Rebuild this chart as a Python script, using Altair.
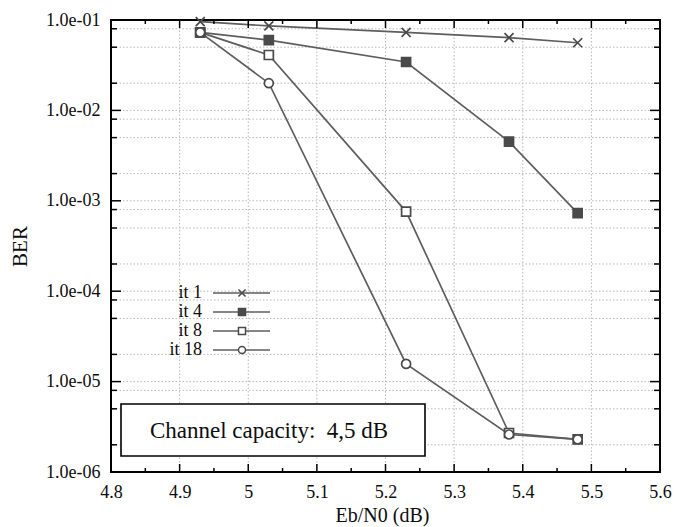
import altair as alt
import pandas as pd

# ---- data ----
ebn0 = [4.93, 5.03, 5.23, 5.38, 5.48]
series_names = ["it 1", "it 4", "it 8", "it 18"]
ber_it1 = [0.096, 0.086, 0.073, 0.0637, 0.056]
ber_it4 = [0.073, 0.060, 0.0343, 0.00451, 0.00073]
ber_it8 = [0.073, 0.041, 0.00076, 2.7e-6, 2.3e-6]
ber_it18 = [0.073, 0.020, 1.57e-5, 2.6e-6, 2.3e-6]

x_labels = [4.8, 4.9, 5.0, 5.1, 5.2, 5.3, 5.4, 5.5, 5.6]
x_major_ticks = [4.9, 5.0, 5.1, 5.2, 5.3, 5.4, 5.5]
x_minor_ticks = [4.85, 4.95, 5.05, 5.15, 5.25, 5.35, 5.45, 5.55]
y_labels = [1e-1, 1e-2, 1e-3, 1e-4, 1e-5, 1e-6]
y_major_ticks = [1e-2, 1e-3, 1e-4, 1e-5]
y_minor_ticks = [m * d for d in [1e-2, 1e-3, 1e-4, 1e-5, 1e-6] for m in (8, 5, 2)]
annotation = "Channel capacity:\u00a0\u00a04,5 dB"

# ---- tables ----
rows = []
for name, vals in zip(series_names, [ber_it1, ber_it4, ber_it8, ber_it18]):
    for x, v in zip(ebn0, vals):
        rows.append({"x": x, "ber": v, "series": name})
df = pd.DataFrame(rows)
df_leg = pd.DataFrame({"series": series_names, "idx": list(range(len(series_names)))})

W, H = 549, 452
FONT = "'Liberation Serif', 'Times New Roman', 'DejaVu Serif', serif"
TXT = "#0d0d0d"
LINE = "#5e5e5e"
MK = "#4a4a4a"

xscale = alt.Scale(domain=[4.8, 5.6], nice=False, zero=False)
yscale = alt.Scale(type="log", domain=[1e-6, 1e-1], nice=False)

shape_scale = alt.Scale(domain=series_names,
                        range=["M-1,-1L1,1M1,-1L-1,1", "square", "square", "circle"])
fill_scale = alt.Scale(domain=series_names, range=["white", MK, "white", "white"])

xaxis = alt.Axis(values=x_labels, labelExpr="datum.value == 5 ? '5' : format(datum.value, '.1f')",
                 ticks=False, domain=False, grid=False, labelPadding=11, labelFlush=False,
                 labelOverlap=False,
                 labelFont=FONT, labelFontSize=18, labelColor=TXT,
                 title="Eb/N0 (dB)", titleFont=FONT, titleFontSize=20, titleFontWeight="normal",
                 titleColor=TXT, titleX=271, titleY=43, titleBaseline="middle", titleAlign="center")
yaxis = alt.Axis(values=y_labels, labelExpr="replace(format(datum.value, '.1e'), 'e-', 'e-0')",
                 ticks=False, domain=False, grid=False, labelPadding=11, labelFlush=False,
                 labelOverlap=False,
                 labelFont=FONT, labelFontSize=18, labelColor=TXT,
                 title="BER", titleFont=FONT, titleFontSize=21, titleFontWeight="normal",
                 titleColor=TXT, titleX=-91, titleY=226, titleAngle=270,
                 titleBaseline="middle", titleAlign="center")

base = alt.Chart(df)

# grid
xgrid = alt.Chart(pd.DataFrame({"v": x_major_ticks})).mark_rule(
    color="#b8b8b8", strokeWidth=1, strokeDash=[1.5, 2]).encode(
    x=alt.X("v:Q", scale=xscale, axis=xaxis))
ygrid = alt.Chart(pd.DataFrame({"v": y_major_ticks + y_minor_ticks})).mark_rule(
    color="#b8b8b8", strokeWidth=1, strokeDash=[1.5, 2]).encode(
    y=alt.Y("v:Q", scale=yscale, axis=yaxis))

lines = base.mark_line(color=LINE, strokeWidth=1.7).encode(
    x=alt.X("x:Q", scale=xscale, axis=xaxis),
    y=alt.Y("ber:Q", scale=yscale, axis=yaxis),
    detail="series:N")

points = base.mark_point(filled=True, stroke=MK, strokeWidth=1.7, size=81, opacity=1).encode(
    x=alt.X("x:Q", scale=xscale, axis=xaxis),
    y=alt.Y("ber:Q", scale=yscale, axis=yaxis),
    shape=alt.Shape("series:N", scale=shape_scale, legend=None),
    fill=alt.Fill("series:N", scale=fill_scale, legend=None))

# ticks (inward, all four sides)
def xticks(vals, length):
    d = alt.Chart(pd.DataFrame({"v": vals}))
    bot = d.mark_rule(color="black", strokeWidth=1.5).encode(
        x=alt.X("v:Q", scale=xscale, axis=xaxis), y=alt.value(H), y2=alt.value(H - length))
    top = d.mark_rule(color="black", strokeWidth=1.5).encode(
        x=alt.X("v:Q", scale=xscale, axis=xaxis), y=alt.value(0), y2=alt.value(length))
    return [bot, top]

def yticks(vals, length):
    d = alt.Chart(pd.DataFrame({"v": vals}))
    left = d.mark_rule(color="black", strokeWidth=1.5).encode(
        y=alt.Y("v:Q", scale=yscale, axis=yaxis), x=alt.value(0), x2=alt.value(length))
    right = d.mark_rule(color="black", strokeWidth=1.5).encode(
        y=alt.Y("v:Q", scale=yscale, axis=yaxis), x=alt.value(W), x2=alt.value(W - length))
    return [left, right]

tick_layers = xticks(x_major_ticks, 8) + xticks(x_minor_ticks, 4) + \
    yticks(y_major_ticks, 10) + yticks(y_minor_ticks, 6)

# annotation box
box = alt.Chart(pd.DataFrame({"t": [annotation]})).mark_rect(
    fill="white", stroke="black", strokeWidth=1.6).encode(
    x=alt.value(10), x2=alt.value(314), y=alt.value(384), y2=alt.value(436))
box_text = alt.Chart(pd.DataFrame({"t": [annotation]})).mark_text(
    font=FONT, fontSize=23, color=TXT, align="center", baseline="middle").encode(
    x=alt.value(158), y=alt.value(411), text="t:N")

# custom legend (label left of sample, gnuplot style)
leg = alt.Chart(df_leg).transform_calculate(py="273 + 19 * datum.idx")
leg_text = leg.mark_text(font=FONT, fontSize=18, color=TXT, align="right", baseline="middle").encode(
    x=alt.value(91), y=alt.Y("py:Q", scale=None), text="series:N")
leg_line = leg.mark_rule(color=LINE, strokeWidth=1.6).encode(
    x=alt.value(102), x2=alt.value(159), y=alt.Y("py:Q", scale=None))
leg_pts = leg.mark_point(filled=True, stroke=MK, strokeWidth=1.5, size=50, opacity=1).encode(
    x=alt.value(131), y=alt.Y("py:Q", scale=None),
    shape=alt.Shape("series:N", scale=shape_scale, legend=None),
    fill=alt.Fill("series:N", scale=fill_scale, legend=None))

chart = alt.layer(xgrid, ygrid, lines, points, box, box_text, leg_line, leg_pts, leg_text,
                  *tick_layers).properties(
    width=W, height=H,
    padding={"left": 111, "top": 20, "right": 18, "bottom": 55},
    autosize=alt.AutoSizeParams(type="none"),
    background="white",
).configure_view(stroke="black", strokeWidth=2)

chart.save("out.html", embed_options={"renderer": "svg", "actions": False})
